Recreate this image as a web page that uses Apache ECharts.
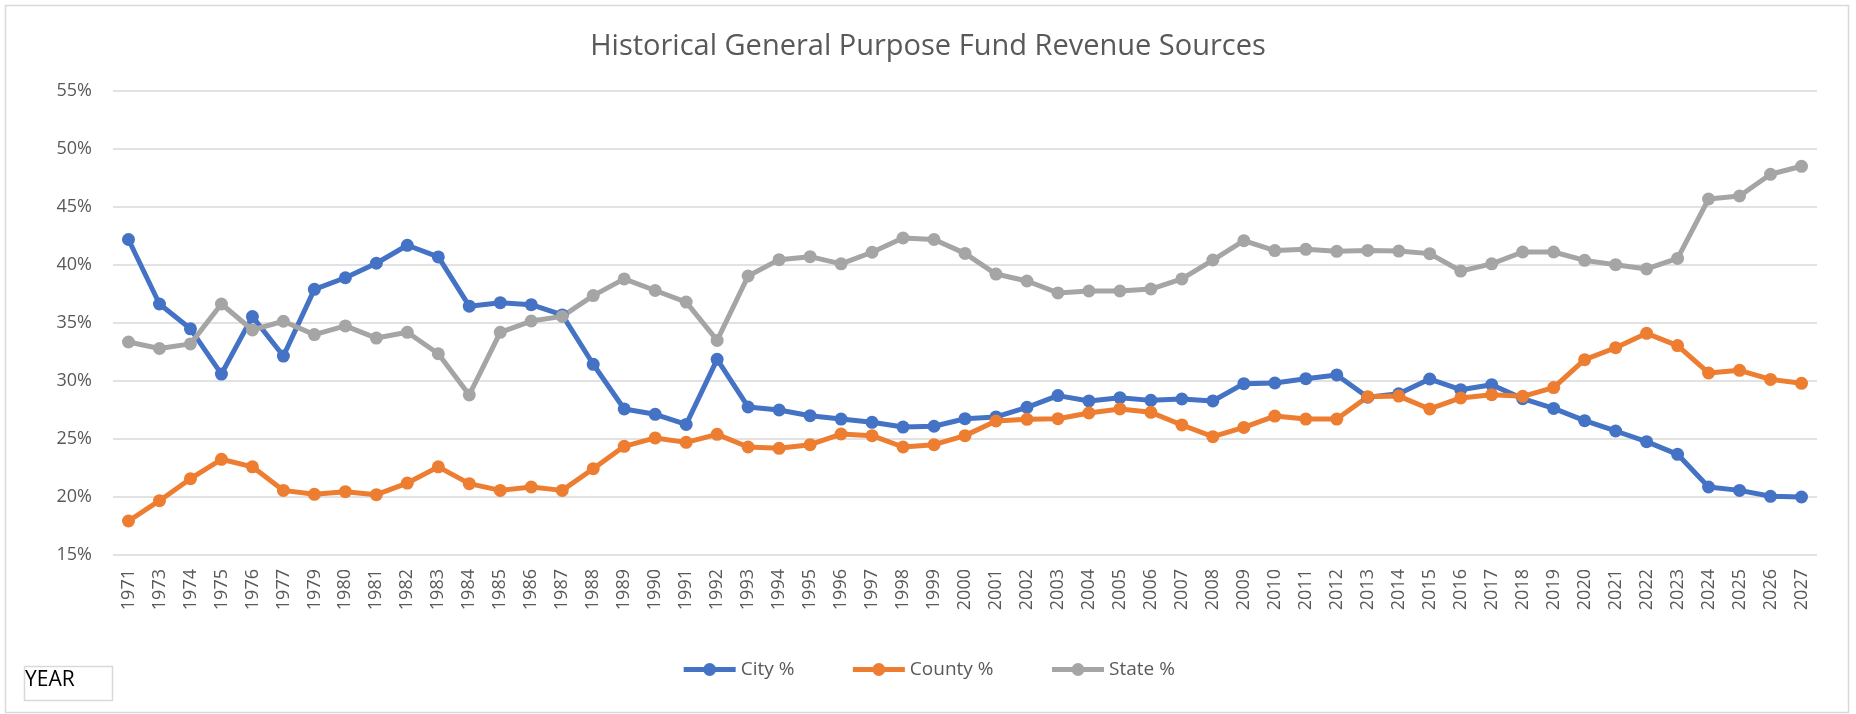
<!DOCTYPE html>
<html>
<head>
<meta charset="utf-8">
<title>Historical General Purpose Fund Revenue Sources</title>
<script src="https://cdn.jsdelivr.net/npm/echarts@6/dist/echarts.min.js"></script>
<style>
	html, body { margin: 0; padding: 0; background: #fff; }
	#chart { width: 1856px; height: 714px; }
</style>
</head>
<body>
<div id="chart"></div>
<script>
	'use strict'
	/*--data--*/
	var years = ['1971', '1973', '1974', '1975', '1976', '1977', '1979', '1980', '1981', '1982', '1983', '1984', '1985', '1986', '1987',
		'1988', '1989', '1990', '1991', '1992', '1993', '1994', '1995', '1996', '1997', '1998', '1999', '2000', '2001', '2002',
		'2003', '2004', '2005', '2006', '2007', '2008', '2009', '2010', '2011', '2012', '2013', '2014', '2015', '2016', '2017',
		'2018', '2019', '2020', '2021', '2022', '2023', '2024', '2025', '2026', '2027'];
	var cityPct = [42.2, 36.64, 34.5, 30.6, 35.55, 32.15, 37.9, 38.9, 40.15, 41.7, 40.7, 36.45, 36.75, 36.58, 35.7,
		31.44, 27.59, 27.13, 26.26, 31.87, 27.76, 27.5, 27.01, 26.72, 26.44, 26.03, 26.1, 26.75, 26.9, 27.73,
		28.74, 28.28, 28.56, 28.33, 28.45, 28.28, 29.77, 29.83, 30.2, 30.52, 28.6, 28.9, 30.17, 29.25, 29.68,
		28.48, 27.64, 26.58, 25.69, 24.77, 23.68, 20.86, 20.57, 20.06, 20.0];
	var countyPct = [17.93, 19.68, 21.58, 23.25, 22.6, 20.57, 20.23, 20.46, 20.2, 21.2, 22.6, 21.15, 20.57, 20.86, 20.57,
		22.44, 24.37, 25.09, 24.71, 25.4, 24.31, 24.2, 24.51, 25.43, 25.29, 24.31, 24.51, 25.29, 26.55, 26.7,
		26.75, 27.24, 27.59, 27.3, 26.21, 25.2, 26.0, 26.98, 26.72, 26.72, 28.65, 28.7, 27.59, 28.54, 28.82,
		28.68, 29.43, 31.84, 32.87, 34.11, 33.05, 30.69, 30.92, 30.14, 29.8];
	var statePct = [33.36, 32.8, 33.2, 36.64, 34.4, 35.15, 34.0, 34.75, 33.7, 34.2, 32.35, 28.8, 34.2, 35.17, 35.57,
		37.36, 38.8, 37.8, 36.8, 33.5, 39.05, 40.46, 40.72, 40.1, 41.1, 42.33, 42.2, 41.0, 39.22, 38.62,
		37.59, 37.76, 37.76, 37.93, 38.8, 40.43, 42.1, 41.24, 41.35, 41.18, 41.26, 41.2, 40.98, 39.48, 40.1,
		41.12, 41.12, 40.4, 40.03, 39.66, 40.57, 45.69, 45.95, 47.82, 48.51];
	var seriesNames = ['City %', 'County %', 'State %'];
	/*--data--*/

	var font = '"Open Sans", sans-serif';
	var textGray = '#595959';

	function lineSeries(name, data) {
		return {
			name: name,
			type: 'line',
			data: data,
			symbol: 'circle',
			symbolSize: 13,
			lineStyle: { width: 5 },
			emphasis: { disabled: true },
			animation: false
		};
	}

	var chart = echarts.init(document.getElementById('chart'));
	var option = {
		backgroundColor: '#fff',
		color: ['#4472c4', '#ed7d31', '#a5a5a5'],
		textStyle: { fontFamily: font },
		title: {
			text: 'Historical General Purpose Fund Revenue Sources',
			left: 'center',
			top: 27,
			textStyle: {
				fontFamily: font,
				fontSize: 29,
				fontWeight: 'normal',
				color: textGray
			}
		},
		legend: {
			data: seriesNames,
			left: 'center',
			top: 655,
			itemWidth: 52,
			itemHeight: 16,
			itemGap: 56,
			lineStyle: { width: 5 },
			textStyle: {
				fontFamily: font,
				fontSize: 19,
				color: textGray
			}
		},
		grid: {
			left: 113,
			right: 39,
			top: 91,
			bottom: 159,
			containLabel: false
		},
		xAxis: {
			type: 'category',
			data: years,
			boundaryGap: true,
			axisLine: { show: false },
			axisTick: { show: false },
			axisLabel: {
				interval: 0,
				rotate: 90,
				margin: 14,
				fontFamily: font,
				fontSize: 18,
				color: textGray
			}
		},
		yAxis: {
			type: 'value',
			min: 15,
			max: 55,
			interval: 5,
			axisLine: { show: false },
			axisTick: { show: false },
			axisLabel: {
				formatter: '{value}%',
				margin: 21,
				fontFamily: font,
				fontSize: 18,
				color: textGray
			},
			splitLine: {
				lineStyle: { color: '#d9d9d9', width: 1.5 }
			}
		},
		graphic: [{
			type: 'rect',
			shape: { x: 5.5, y: 5.5, width: 1843, height: 707 },
			style: { fill: 'none', stroke: '#d9d9d9', lineWidth: 1.5 },
			silent: true
		}, {
			type: 'rect',
			shape: { x: 24.5, y: 666.5, width: 88, height: 34 },
			style: { fill: '#fff', stroke: '#d9d9d9', lineWidth: 1.5 },
			silent: true
		}, {
			type: 'text',
			left: 25,
			top: 670,
			style: {
				text: 'YEAR',
				font: '21px ' + font,
				fill: '#000'
			},
			silent: true
		}],
		series: [
			lineSeries(seriesNames[0], cityPct),
			lineSeries(seriesNames[1], countyPct),
			lineSeries(seriesNames[2], statePct)
		]
	};
	chart.setOption(option);
</script>
</body>
</html>
